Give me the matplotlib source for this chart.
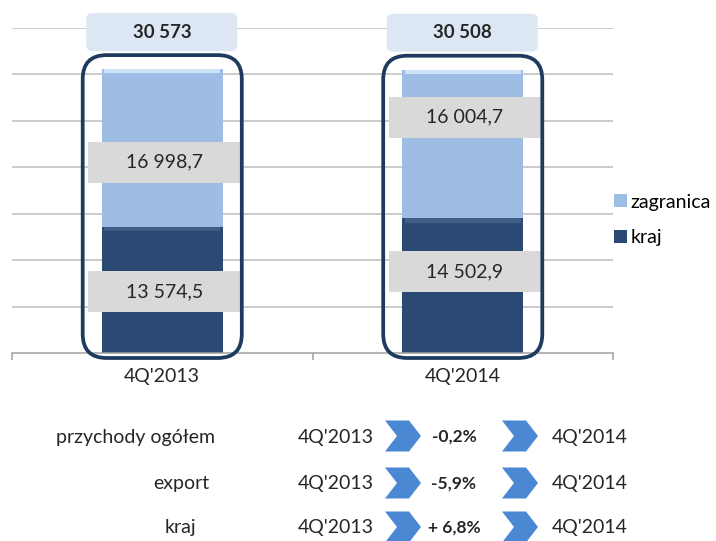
import matplotlib.pyplot as plt
import numpy as np
from matplotlib.patches import FancyBboxPatch, Polygon
from matplotlib.transforms import IdentityTransform

plt.rcParams['font.family'] = ['Lato', 'DejaVu Sans']

# data
quarters = ["4Q'2013", "4Q'2014"]
kraj = np.array([13574.5, 14502.9])
zagranica = np.array([16998.7, 16004.7])
total_labels = ["30 573", "30 508"]
kraj_labels = ["13 574,5", "14 502,9"]
zagr_labels = ["16 998,7", "16 004,7"]

row_names = ["przychody ogółem", "export", "kraj"]
row_changes = ["-0,2%", "-5,9%", "+ 6,8%"]

W, H = 716, 541
fig = plt.figure(figsize=(W / 100, H / 100), dpi=100)
ax = fig.add_axes([12 / W, 1 - 353 / H, 601 / W, 325 / H])

dark = '#2b4a73'
light = '#9dbde5'
txt = '#262626'
x = np.arange(len(quarters))
bw = 0.403

b_kraj = ax.bar(x, kraj, bw, color=dark, label='kraj', zorder=2)
b_zagr = ax.bar(x, zagranica, bw, bottom=kraj, color=light, label='zagranica', zorder=2)
# bevel highlight on top of each segment
hl = 450
ax.bar(x, [hl] * 2, bw * 0.96, bottom=kraj + zagranica - hl, color='#cde3f8', zorder=3)
ax.bar(x, [hl] * 2, bw * 0.96, bottom=kraj - hl, color='#3f5f88', zorder=3)

ax.set_xlim(-0.5, 1.5)
ax.set_ylim(0, 35000)
ax.set_yticks(np.arange(5000, 35001, 5000))
ax.yaxis.grid(True, color='#bdbdbd', lw=1.1)
ax.set_axisbelow(True)
ax.tick_params(axis='y', length=0, labelleft=False)
ax.set_xticks([-0.5, 0.5, 1.5])
ax.set_xticklabels([])
ax.set_xticks(x, minor=True)
ax.set_xticklabels(quarters, minor=True, fontsize=14, color=txt)
ax.tick_params(axis='x', which='major', length=5, color='#a0a0a0', width=1.1)
ax.tick_params(axis='x', which='minor', length=0, pad=11)
for s in ['left', 'top', 'right']:
    ax.spines[s].set_visible(False)
ax.spines['bottom'].set_color('#a0a0a0')
ax.spines['bottom'].set_linewidth(1.1)

ident = IdentityTransform()
totals = kraj + zagranica
zagr_off = [-14, 27]
kraj_off = [-2, 14]
for i in range(len(x)):
    x0, y0 = ax.transData.transform((x[i] - bw / 2, 0))
    x1, y1 = ax.transData.transform((x[i] + bw / 2, totals[i]))
    xc = (x0 + x1) / 2
    # rounded outline
    fig.add_artist(FancyBboxPatch((x0 - 19, y0 - 5), (x1 - x0) + 38, (y1 - y0) + 19,
                                  boxstyle='round,pad=0,rounding_size=24',
                                  fill=False, ec='#1f3a5f', lw=2.7,
                                  transform=ident, zorder=6))
    # total label
    ty = y1 + 37
    fig.add_artist(FancyBboxPatch((xc - 76, ty - 19), 151, 38,
                                  boxstyle='round,pad=0,rounding_size=6',
                                  fc='#dde7f3', ec='none', transform=ident, zorder=4))
    fig.text(xc, ty, total_labels[i], transform=ident, ha='center', va='center',
             fontsize=13.5, fontweight='bold', color=txt, zorder=7)
    # segment labels
    segs = [(kraj[i] / 2, kraj_labels[i], kraj_off[i]),
            (kraj[i] + zagranica[i] / 2, zagr_labels[i], zagr_off[i])]
    for yv, lab, off in segs:
        _, yc = ax.transData.transform((x[i], yv))
        yc = yc + off
        fig.add_artist(FancyBboxPatch((xc - 74, yc - 20.5), 152, 41,
                                      boxstyle='square,pad=0', fc='#d9d9d9', ec='none',
                                      transform=ident, zorder=5))
        fig.text(xc + 2, yc, lab, transform=ident, ha='center', va='center',
                 fontsize=14, color=txt, zorder=7)

fig.legend(handles=[b_zagr, b_kraj], loc='center left', bbox_to_anchor=(614 / W, 1 - 220 / H),
           frameon=False, fontsize=14, handlelength=0.65, handleheight=0.65,
           handletextpad=0.2, labelspacing=0.95, borderpad=0, borderaxespad=0)

# bottom comparison rows
row_y = [437, 484, 528]
name_x = [135, 181, 180]
chev = '#4a88d4'


def chevron(cx, cy, w=36, h=31, d=12):
    pts = [(cx - w / 2, cy + h / 2), (cx + w / 2 - d, cy + h / 2), (cx + w / 2, cy),
           (cx + w / 2 - d, cy - h / 2), (cx - w / 2, cy - h / 2), (cx - w / 2 + d, cy)]
    fig.add_artist(Polygon(pts, closed=True, fc=chev, ec='none', transform=ident))


for j in range(len(row_names)):
    yy = H - row_y[j]
    fig.text(name_x[j], yy, row_names[j], transform=ident, ha='center', va='center',
             fontsize=14, color=txt)
    fig.text(336, yy, quarters[0], transform=ident, ha='center', va='center',
             fontsize=14, color=txt)
    chevron(403, yy + 1)
    fig.text(454, yy, row_changes[j], transform=ident, ha='center', va='center',
             fontsize=12.5, fontweight='bold', color=txt)
    chevron(520, yy + 1)
    fig.text(590, yy, quarters[1], transform=ident, ha='center', va='center',
             fontsize=14, color=txt)

fig.savefig('out.png', dpi=100)
